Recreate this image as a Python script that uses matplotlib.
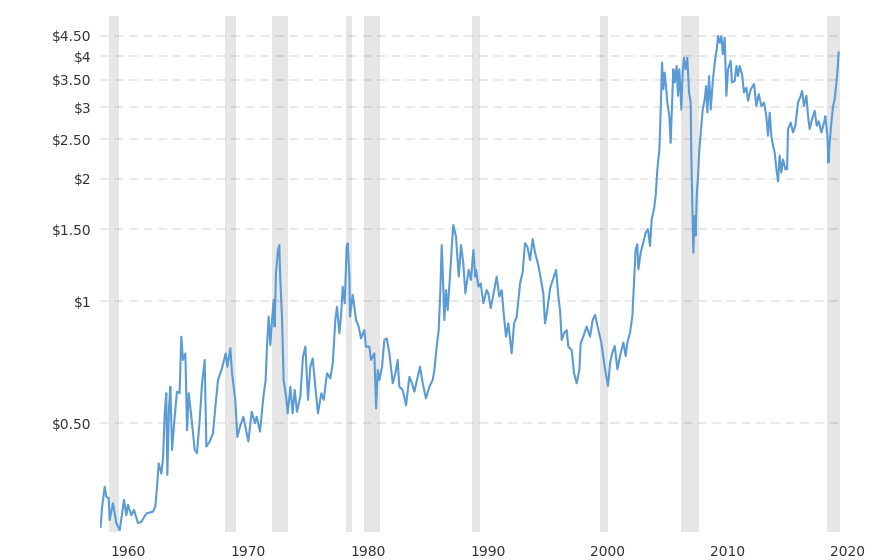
import matplotlib
matplotlib.use("Agg")
import matplotlib.pyplot as plt
from matplotlib.transforms import ScaledTranslation
from matplotlib.ticker import FixedLocator, NullLocator

# ---- data ----
years = [
    1959.52, 1959.63, 1959.86, 1959.99, 1960.19, 1960.27, 1960.55, 1960.83, 1961.11, 1961.47,
    1961.66, 1961.80, 1962.08, 1962.30, 1962.63, 1962.91, 1963.33, 1963.88, 1964.08, 1964.24,
    1964.36, 1964.58, 1964.72, 1964.86, 1964.99, 1965.08, 1965.22, 1965.33, 1965.47, 1965.69,
    1965.88, 1966.10, 1966.24, 1966.38, 1966.58, 1966.72, 1966.86, 1967.08, 1967.36, 1967.55,
    1967.77, 1967.97, 1968.19, 1968.33, 1968.61, 1968.88, 1969.08, 1969.30, 1969.63, 1969.94,
    1970.08, 1970.33, 1970.47, 1970.74, 1970.91, 1971.13, 1971.41, 1971.83, 1972.11, 1972.38,
    1972.52, 1972.80, 1973.08, 1973.27, 1973.38, 1973.52, 1973.66, 1973.80, 1973.94, 1974.02,
    1974.13, 1974.30, 1974.41, 1974.49, 1974.63, 1974.77, 1974.97, 1975.11, 1975.33, 1975.52,
    1975.69, 1975.88, 1976.16, 1976.38, 1976.58, 1976.80, 1976.99, 1977.19, 1977.41, 1977.63,
    1977.91, 1978.11, 1978.38, 1978.66, 1978.86, 1979.08, 1979.22, 1979.41, 1979.55, 1979.69,
    1979.86, 1980.02, 1980.11, 1980.25, 1980.30, 1980.52, 1980.66, 1980.80, 1981.02, 1981.22,
    1981.49, 1981.63, 1981.91, 1982.05, 1982.33, 1982.47, 1982.61, 1982.75, 1982.97, 1983.16,
    1983.36, 1983.58, 1983.86, 1984.08, 1984.27, 1984.41, 1984.69, 1984.97, 1985.25, 1985.47,
    1985.66, 1985.88, 1986.13, 1986.36, 1986.63, 1986.91, 1987.19, 1987.33, 1987.52, 1987.69,
    1987.83, 1987.94, 1988.08, 1988.16, 1988.30, 1988.44, 1988.63, 1988.80, 1988.91, 1989.13,
    1989.36, 1989.55, 1989.74, 1989.91, 1990.19, 1990.38, 1990.58, 1990.74, 1990.80, 1991.00,
    1991.19, 1991.41, 1991.69, 1991.83, 1992.02, 1992.24, 1992.52, 1992.74, 1992.94, 1993.08,
    1993.30, 1993.49, 1993.77, 1993.97, 1994.19, 1994.47, 1994.69, 1994.88, 1995.08, 1995.30,
    1995.52, 1995.72, 1996.00, 1996.19, 1996.41, 1996.55, 1996.74, 1996.97, 1997.24, 1997.47,
    1997.66, 1997.80, 1997.94, 1998.13, 1998.36, 1998.49, 1998.77, 1998.97, 1999.19, 1999.41,
    1999.52, 1999.74, 2000.02, 2000.30, 2000.52, 2000.72, 2000.86, 2001.05, 2001.24, 2001.47,
    2001.60, 2001.80, 2001.97, 2002.16, 2002.36, 2002.58, 2002.80, 2003.08, 2003.27, 2003.41,
    2003.63, 2003.83, 2003.97, 2004.10, 2004.24, 2004.33, 2004.52, 2004.74, 2004.94, 2005.13,
    2005.30, 2005.44, 2005.63, 2005.77, 2005.91, 2006.08, 2006.19, 2006.30, 2006.41, 2006.52,
    2006.63, 2006.74, 2006.91, 2007.02, 2007.13, 2007.24, 2007.36, 2007.52, 2007.63, 2007.74,
    2007.91, 2008.02, 2008.13, 2008.27, 2008.41, 2008.55, 2008.69, 2008.74, 2008.83, 2008.91,
    2009.02, 2009.10, 2009.19, 2009.30, 2009.41, 2009.58, 2009.69, 2009.86, 2009.97, 2010.08,
    2010.22, 2010.36, 2010.52, 2010.69, 2010.86, 2010.97, 2011.11, 2011.25, 2011.36, 2011.52,
    2011.66, 2011.80, 2012.02, 2012.13, 2012.36, 2012.50, 2012.63, 2012.77, 2012.97, 2013.13,
    2013.33, 2013.47, 2013.69, 2013.97, 2014.16, 2014.36, 2014.58, 2014.80, 2014.99, 2015.13,
    2015.27, 2015.41, 2015.55, 2015.69, 2015.83, 2015.97, 2016.10, 2016.24, 2016.38, 2016.58,
    2016.72, 2016.80, 2017.02, 2017.22, 2017.41, 2017.63, 2017.86, 2017.97, 2018.13, 2018.33,
    2018.47, 2018.60, 2018.80, 2019.02, 2019.19, 2019.36, 2019.58, 2019.80, 2019.91, 2020.08,
    2020.16, 2020.27, 2020.41, 2020.55, 2020.69, 2020.83, 2020.91, 2021.02,
]
prices = [
    0.278, 0.309, 0.349, 0.330, 0.327, 0.289, 0.318, 0.284, 0.273, 0.324,
    0.297, 0.315, 0.297, 0.306, 0.284, 0.286, 0.300, 0.303, 0.312, 0.356,
    0.398, 0.376, 0.410, 0.529, 0.593, 0.373, 0.549, 0.615, 0.430, 0.519,
    0.598, 0.593, 0.817, 0.716, 0.743, 0.481, 0.593, 0.519, 0.430, 0.422,
    0.509, 0.627, 0.716, 0.438, 0.451, 0.472, 0.549, 0.639, 0.683, 0.743,
    0.689, 0.765, 0.664, 0.571, 0.463, 0.490, 0.519, 0.451, 0.534, 0.500,
    0.519, 0.477, 0.580, 0.639, 0.772, 0.915, 0.779, 0.898, 1.006, 0.865,
    1.170, 1.335, 1.373, 1.126, 0.915, 0.639, 0.582, 0.529, 0.615, 0.529,
    0.604, 0.534, 0.582, 0.729, 0.772, 0.571, 0.689, 0.722, 0.615, 0.529,
    0.593, 0.571, 0.664, 0.645, 0.703, 0.898, 0.968, 0.833, 0.915, 1.085,
    0.987, 1.361, 1.387, 1.148, 0.915, 1.035, 0.968, 0.898, 0.865, 0.809,
    0.848, 0.772, 0.772, 0.716, 0.743, 0.544, 0.676, 0.639, 0.689, 0.802,
    0.809, 0.743, 0.627, 0.664, 0.716, 0.615, 0.604, 0.554, 0.651, 0.627,
    0.598, 0.639, 0.689, 0.627, 0.576, 0.615, 0.639, 0.676, 0.772, 0.848,
    1.064, 1.373, 1.064, 0.898, 1.064, 0.950, 1.148, 1.387, 1.539, 1.441,
    1.148, 1.373, 1.239, 1.044, 1.193, 1.127, 1.335, 1.148, 1.193, 1.085,
    1.105, 0.987, 1.064, 1.044, 0.960, 1.035, 1.148, 1.025, 1.064, 0.950,
    0.817, 0.881, 0.743, 0.881, 0.915, 1.105, 1.180, 1.387, 1.360, 1.260,
    1.420, 1.315, 1.220, 1.137, 1.044, 0.881, 0.950, 1.074, 1.137, 1.193,
    1.025, 0.950, 0.802, 0.833, 0.848, 0.772, 0.757, 0.664, 0.627, 0.676,
    0.787, 0.817, 0.865, 0.817, 0.898, 0.924, 0.884, 0.835, 0.790, 0.705,
    0.666, 0.618, 0.705, 0.746, 0.775, 0.679, 0.732, 0.790, 0.732, 0.790,
    0.835, 0.918, 1.110, 1.340, 1.379, 1.197, 1.315, 1.393, 1.474, 1.502,
    1.366, 1.589, 1.682, 1.815, 2.110, 2.363, 2.960, 3.860, 3.320, 3.650,
    3.380, 3.080, 2.850, 2.450, 3.020, 3.720, 3.450, 3.790, 3.200, 3.720,
    2.960, 3.650, 3.970, 3.720, 3.970, 3.260, 3.080, 2.280, 1.680, 1.315,
    1.619, 1.450, 1.815, 2.030, 2.363, 2.700, 2.960, 3.140, 3.380, 2.910,
    3.580, 2.960, 3.450, 3.860, 4.170, 4.490, 4.320, 4.490, 4.050, 4.450,
    3.200, 3.720, 3.900, 3.450, 3.480, 3.790, 3.580, 3.790, 3.610, 3.260,
    3.350, 3.110, 3.320, 3.420, 3.020, 3.230, 3.020, 3.080, 2.850, 2.550,
    2.910, 2.550, 2.410, 2.320, 2.110, 1.970, 2.280, 2.070, 2.230, 2.110,
    2.110, 2.650, 2.750, 2.600, 2.700, 3.080, 3.200, 3.290, 3.020, 3.200,
    2.850, 2.650, 2.800, 2.940, 2.700, 2.770, 2.600, 2.750, 2.850, 2.550,
    2.190, 2.450, 2.750, 3.020, 3.140, 3.450, 3.650, 4.090,
]

recession_start = [1960.25, 1969.92, 1973.83, 1980.00, 1981.50, 1990.50, 2001.17, 2007.92, 2020.08]
recession_end = [1961.08, 1970.83, 1975.17, 1980.50, 1982.83, 1991.17, 2001.83, 2009.42, 2021.13]

y_ticks = [0.5, 1, 1.5, 2, 2.5, 3, 3.5, 4, 4.5]
y_tick_labels = ["$0.50", "$1", "$1.50", "$2", "$2.50", "$3", "$3.50", "$4", "$4.50"]
x_ticks = [1960, 1970, 1980, 1990, 2000, 2010, 2020]
x_tick_labels = ["1960", "1970", "1980", "1990", "2000", "2010", "2020"]

# ---- figure ----
W, H, DPI = 888, 560, 100
fig = plt.figure(figsize=(W / DPI, H / DPI), dpi=DPI)
ax = fig.add_axes([100 / W, 28 / H, 740 / W, 516 / H])

ax.set_yscale("log")
ax.set_xlim(1959.467, 2021.13)
ax.set_ylim(0.270, 5.03)

for s, e in zip(recession_start, recession_end):
    ax.axvspan(s, e, color="#e6e6e6", lw=0, zorder=0)

for v in y_ticks:
    ax.axhline(v, color="black", alpha=0.09, lw=1.4, ls=(0, (4.5, 3)), zorder=1)

ax.plot(years, prices, color="#5b9bd5", lw=1.5, zorder=3, solid_joinstyle="round")

ax.yaxis.set_major_locator(FixedLocator(y_ticks))
ax.yaxis.set_minor_locator(NullLocator())
ax.set_yticklabels(y_tick_labels)
ax.set_xticks(x_ticks)
ax.set_xticklabels(x_tick_labels)
ax.xaxis.set_minor_locator(NullLocator())

ax.tick_params(axis="both", length=0, labelsize=10, labelcolor="#333333")
ax.tick_params(axis="y", pad=6)
ax.tick_params(axis="x", pad=9)

for sp in ax.spines.values():
    sp.set_visible(False)

off = ScaledTranslation(3.6 / DPI, 0, fig.dpi_scale_trans)
for lab in ax.get_xticklabels():
    lab.set_horizontalalignment("left")
    lab.set_transform(lab.get_transform() + off)

fig.savefig("out.png", dpi=DPI, facecolor="white")
